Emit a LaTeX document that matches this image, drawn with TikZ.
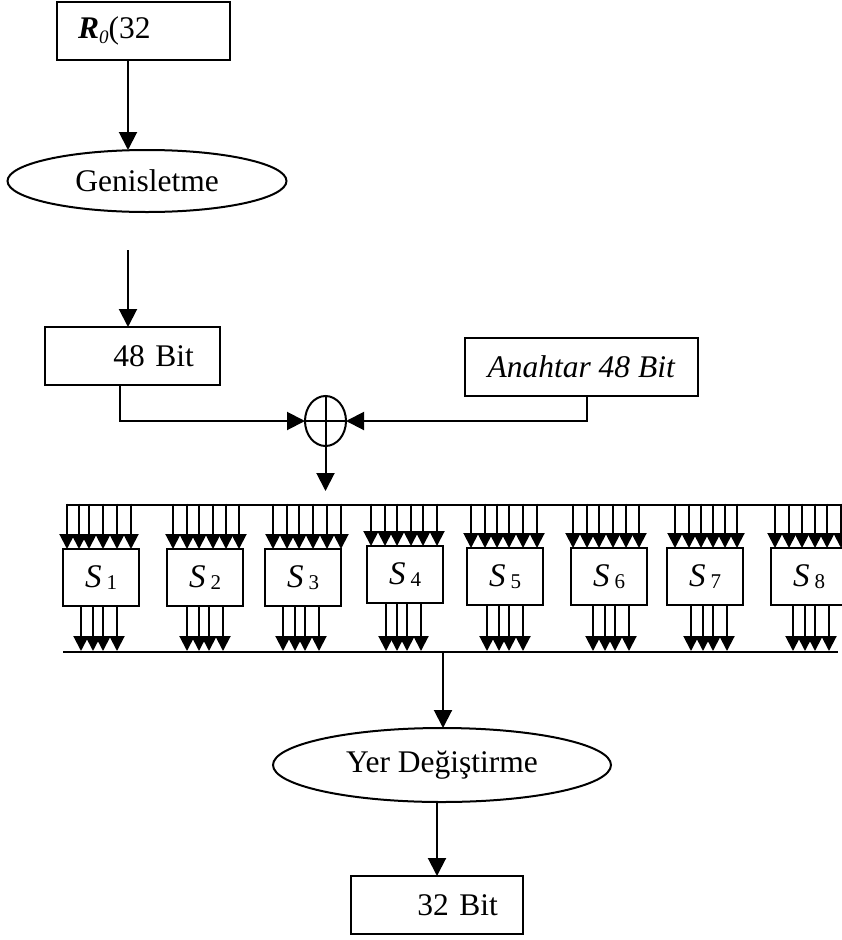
\documentclass[tikz,border=0pt]{standalone}
\usepackage{fontspec}
\setmainfont{Liberation Serif}
\usetikzlibrary{arrows.meta,shapes.geometric}
\tikzset{
  lw/.style={line width=2pt},
  mainfont/.style={font=\fontsize{31.5}{36}\selectfont},
  box/.style={draw,lw,rectangle,inner sep=0pt,outer sep=0pt,mainfont},
  oval/.style={draw,lw,ellipse,inner sep=0pt,outer sep=0pt,mainfont},
  sbox/.style={draw,lw,rectangle,inner sep=0pt,outer sep=0pt,minimum width=76pt,minimum height=57pt,font=\fontsize{33}{36}\selectfont},
  arr/.style={lw,-{Triangle[width=18pt,length=18pt]}},
  busarr/.style={lw,-{Triangle[width=15pt,length=15pt]}},
  plain/.style={lw}
}
\begin{document}
\begin{tikzpicture}[x=1pt,y=-1pt]
\useasboundingbox (0,0) rectangle (842,940);
\clip (0,0) rectangle (842,940);

% main nodes
\node[box,minimum width=173pt,minimum height=58pt,inner xsep=21pt,text width=131pt,align=left] (r0) at (143.5,31)
  {\textbf{\textit{R}}\raisebox{-5pt}{\fontsize{19}{19}\selectfont\textit{0}}(32};
\node[oval,minimum width=279pt,minimum height=62pt] (gen) at (147,181) {Genisletme};
\node[box,minimum width=175pt,minimum height=58pt,inner xsep=26pt,text width=123pt,align=right] (b48) at (132.5,356) {48 Bit};
\node[box,minimum width=233pt,minimum height=58pt] (key) at (581.5,367) {\textit{Anahtar 48 Bit}};
\node[draw,lw,ellipse,inner sep=0pt,outer sep=0pt,minimum width=41pt,minimum height=50pt] (xor) at (325.5,421) {};
\draw[plain] (xor.north) -- (xor.south) (xor.west) -- (xor.east);
\node[oval,minimum width=338pt,minimum height=74pt] (yer) at (442,765) {Yer Değiştirme};
\node[box,minimum width=172pt,minimum height=58pt,inner xsep=25pt,text width=122pt,align=right] (b32) at (437,905) {32 Bit};

% helper coordinates
\coordinate (c128) at (128,0);
\coordinate (c120) at (120,0);
\coordinate (c587) at (587,0);
\coordinate (g2) at (128,250);
\coordinate (xend) at (325.5,491);
\coordinate (busL) at (66,505);
\coordinate (busR) at (842,505);
\coordinate (obusL) at (63,652);
\coordinate (obusR) at (838,652);
\coordinate (odown) at (443,652);
\coordinate (yerout) at (437,802);

% connectors
\draw[arr] (r0.south -| c128) -- (gen.north -| c128);
\draw[arr] (g2) -- (b48.north -| c128);
\draw[arr] (b48.south -| c120) |- (xor.west);
\draw[arr] (key.south -| c587) |- (xor.east);
\draw[arr] (xor.south) -- (xend);
\draw[plain] (busL) -- (busR);
\draw[plain] (obusL) -- (obusR);
\draw[arr] (odown) -- (yer.north -| odown);
\draw[arr] (yerout) -- (b32.north -| yerout);

% S boxes
\foreach \n/\xl/\yt/\ins/\outs in {
  1/63/549/{4,16,26,40,54,68}/{18,30,40,54},
  2/167/549/{6,20,32,46,59,72}/{20,32,42,56},
  3/265/549/{8,22,34,48,62,76}/{18,30,40,54},
  4/367/546/{4,18,30,44,56,70}/{19,30,40,54},
  5/467/548/{4,18,30,42,56,70}/{20,32,42,56},
  6/571/548/{2,16,28,42,55,68}/{22,34,44,58},
  7/667/548/{8,22,34,46,58,70}/{24,36,46,60},
  8/771/548/{4,18,31,44,56,70}/{22,34,44,58}}{
  \node[sbox] (s\n) at (\xl+38,\yt+28.5)
    {\textit{S}\hspace{5pt}\raisebox{-1.5pt}{\fontsize{21}{21}\selectfont\n}};
  \foreach \o in \ins {
    \draw[busarr] (\xl+\o,503.5) -- ([xshift=\o pt]s\n.north west);
  }
  \foreach \o in \outs {
    \draw[busarr] ([xshift=\o pt]s\n.south west) -- (\xl+\o,651);
  }
}
\end{tikzpicture}
\end{document}
